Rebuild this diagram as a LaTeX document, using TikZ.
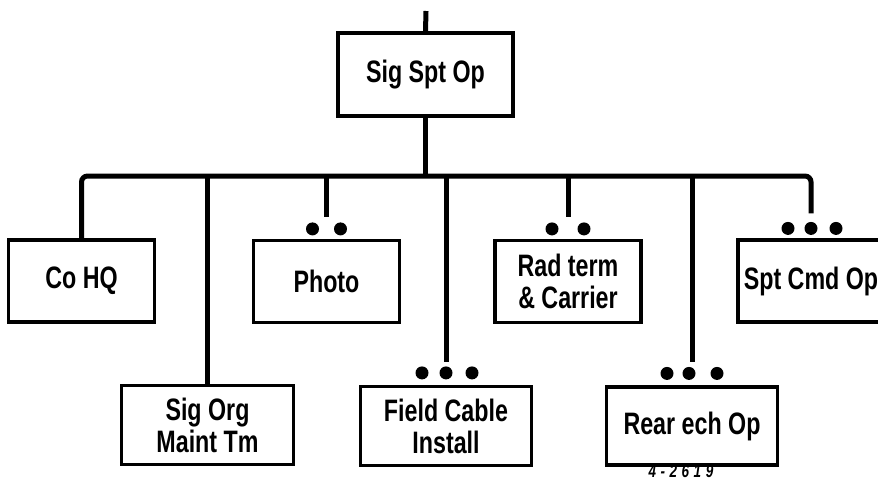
\documentclass[tikz,border=0pt]{standalone}
\usepackage{fontspec}
\setmainfont{Liberation Sans}[FakeStretch=0.75]
\usepackage{tikz}
\usetikzlibrary{positioning, calc}

\begin{document}
\begin{tikzpicture}[
    x=1pt, y=-1pt,
    orgbox/.style={draw, line width=3.2pt, minimum width=146pt, minimum height=82pt,
                   align=center, inner sep=2pt, font=\bfseries\fontsize{31}{32}\selectfont},
    lowbox/.style={orgbox, minimum width=172pt, minimum height=79pt},
    dot/.style={circle, fill=black, inner sep=0pt, minimum size=13pt},
    link/.style={line width=5pt},
]
\fill[white] (0,0) rectangle (878,482);
\useasboundingbox (0,0) rectangle (878,482);

% --- Top: parent box ---
\node[orgbox, minimum width=175pt, minimum height=83pt] (top) at (425.5,74.5) {Sig Spt Op};
\coordinate (in) at (426,11);
\coordinate (bus) at (0,176);
\draw[link] (in) -- (top.north);

% --- Upper row ---
\node[orgbox] (cohq) at (81.5,281) {Co HQ};
\node[orgbox] (photo) at (326.5,281.5) {Photo};
\node[orgbox] (rad) at (568,281.5) {Rad term\\\& Carrier};
\node[orgbox] (spt) at (811,281) {Spt Cmd Op};

% --- Lower row ---
\node[lowbox] (sigorg) at (207.5,425) {Sig Org\\Maint Tm};
\node[lowbox, minimum width=171pt] (field) at (446,426) {Field Cable\\Install};
\node[lowbox, minimum width=171pt, minimum height=78pt] (rear) at (692,426) {Rear ech Op};

% Stub ends above the dots
\coordinate (photoend) at ([yshift=22pt]photo.north);
\coordinate (radend) at ([yshift=22pt]rad.north);
\coordinate (sptend) at ([yshift=25pt]spt.north);
\coordinate (fieldend) at ([yshift=23pt]field.north);
\coordinate (rearend) at ([yshift=23pt]rear.north);

% --- Bus and stubs ---
\draw[link] (top.south) -- (top.south |- bus);
\draw[link, rounded corners=6pt] (cohq.north) |- (top.south |- bus) -| (sptend);
\draw[link] (sigorg.north |- bus) -- (sigorg.north);
\draw[link] (photoend |- bus) -- (photoend);
\draw[link] (fieldend |- bus) -- (fieldend);
\draw[link] (radend |- bus) -- (radend);
\draw[link] (rearend |- bus) -- (rearend);

% --- Dots ---
\node[dot] (photoA) at ([xshift=-14pt, yshift=10pt]photo.north) {};
\node[dot] (photoB) at ([xshift=14pt, yshift=10pt]photo.north) {};
\node[dot] (radA) at ([xshift=-16pt, yshift=10pt]rad.north) {};
\node[dot] (radB) at ([xshift=16pt, yshift=10pt]rad.north) {};
\node[dot] (sptA) at ([xshift=-23pt, yshift=10pt]spt.north) {};
\node[dot] (sptB) at ([yshift=10pt]spt.north) {};
\node[dot] (sptC) at ([xshift=25pt, yshift=10pt]spt.north) {};
\node[dot] (fieldA) at ([xshift=-24pt, yshift=12pt]field.north) {};
\node[dot] (fieldB) at ([yshift=12pt]field.north) {};
\node[dot] (fieldC) at ([xshift=26pt, yshift=12pt]field.north) {};
\node[dot] (rearA) at ([xshift=-25pt, yshift=12pt]rear.north) {};
\node[dot] (rearB) at ([xshift=-3pt, yshift=12pt]rear.north) {};
\node[dot] (rearC) at ([xshift=25pt, yshift=12pt]rear.north) {};

% Figure number
\node[font=\bfseries\itshape\fontsize{18}{18}\selectfont\addfontfeature{LetterSpace=25}] (fignum) at (681,471) {4-2619};

\end{tikzpicture}
\end{document}
